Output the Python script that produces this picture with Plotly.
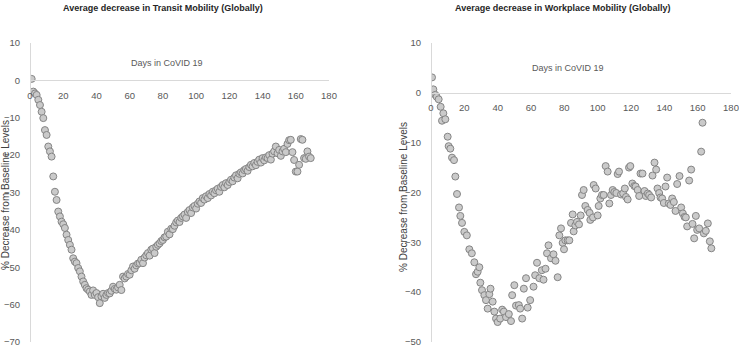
import plotly.graph_objects as go

# ---- Transit mobility (left chart) ----
transit_values = [
    0.4, -3.0, -3.5, -3.9, -5.2, -6.6, -8.4, -10.1, -13.3, -14.6,
    -17.7, -19.0, -20.4, -25.7, -29.8, -32.0, -35.1, -36.4, -37.8, -38.5,
    -39.5, -41.3, -42.7, -44.0, -45.3, -47.6, -48.5, -48.9, -50.2, -51.1,
    -52.5, -53.8, -54.7, -55.6, -56.0, -56.5, -57.4, -56.2, -57.4, -56.9,
    -58.0, -59.6, -57.8, -57.1, -58.2, -57.4, -56.9, -57.0, -56.3, -55.2,
    -55.8, -56.0, -55.4, -54.7, -56.1, -52.5, -53.0, -52.5, -51.8, -52.0,
    -50.8, -49.8, -50.4, -49.5, -49.0, -48.9, -48.0, -48.9, -47.4, -46.8,
    -46.2, -46.9, -45.3, -45.0, -46.2, -44.5, -44.0, -43.6, -43.0, -42.7,
    -42.0, -41.8, -40.5, -41.2, -39.7, -39.8, -38.9, -38.0, -37.5, -37.9,
    -36.8, -36.4, -35.9, -36.8, -35.2, -34.7, -35.5, -34.0, -33.6, -34.3,
    -33.0, -32.4, -32.8, -31.5, -31.9, -31.0, -31.5, -30.4, -30.8, -29.8,
    -30.2, -29.4, -29.0, -29.8, -28.5, -28.0, -28.6, -27.5, -28.0, -27.2,
    -26.6, -27.0, -26.0, -25.4, -26.2, -25.0, -24.6, -24.9, -24.0, -23.7,
    -24.2, -23.2, -22.6, -23.0, -22.1, -22.7, -21.8, -21.2, -22.0, -20.8,
    -21.4, -20.6, -20.8, -20.0, -21.2, -19.6, -19.0, -17.7, -19.5, -18.6,
    -20.2, -19.0, -18.3, -19.2, -17.0, -16.0, -15.9, -19.2, -21.3, -24.4,
    -24.4, -22.6, -15.7, -15.9, -20.8, -21.0, -19.0, -20.4, -20.8,
]
transit_days = list(range(1, len(transit_values) + 1))

# ---- Workplace mobility (right chart) ----
workplace_days = [
    0.6, 1.4, 2.6, 3.4, 4.6, 5.8, 6.6, 7.4, 8.6, 10.0,
    10.6, 11.6, 12.6, 13.8, 14.6, 15.6, 16.8, 17.6, 18.6, 20.0,
    21.5, 23.0, 24.5, 26.0, 27.0, 28.0, 29.0, 29.6, 30.6, 32.0,
    33.0, 34.0, 35.0, 35.7, 37.0, 38.0, 39.0, 40.0, 41.5, 42.7,
    43.7, 45.0, 46.7, 48.0, 48.7, 50.0, 51.0, 52.7, 53.5, 54.7,
    55.7, 57.0, 58.0, 59.5, 61.5, 62.5, 63.6, 65.0, 66.5, 67.5,
    68.7, 69.6, 70.5, 72.0, 73.5, 74.7, 76.0, 77.0, 78.0, 79.0,
    79.8, 80.6, 82.0, 83.0, 84.0, 85.0, 85.6, 86.6, 87.6, 88.8,
    89.8, 90.6, 91.6, 92.6, 94.0, 95.2, 95.6, 97.2, 97.6, 98.8,
    100.0, 100.6, 101.6, 102.6, 103.6, 104.8, 106.0, 107.0, 108.0, 109.0,
    110.0, 111.2, 112.0, 112.8, 114.0, 115.3, 116.3, 117.0, 118.0, 118.8,
    119.6, 120.8, 122.0, 122.8, 124.0, 124.9, 125.7, 126.9, 128.1, 128.9,
    130.1, 130.9, 132.1, 132.9, 134.1, 135.1, 135.9, 136.9, 137.7, 138.7,
    139.7, 140.7, 141.7, 142.7, 143.7, 144.7, 145.7, 146.7, 147.7, 149.1,
    150.1, 151.1, 152.1, 152.9, 153.7, 154.9, 156.1, 156.9, 157.9, 158.9,
    159.7, 160.9, 162.1, 162.9, 163.7, 164.9, 166.1, 167.3, 168.2,
]
workplace_values = [
    3.1, 0.7, -0.4, -0.8, -1.3, -2.8, -5.6, -4.1, -5.3, -8.8,
    -10.7, -11.2, -13.0, -13.5, -16.8, -20.3, -23.0, -24.7, -26.1, -27.9,
    -28.6, -31.4, -32.2, -34.0, -36.4, -35.9, -35.0, -38.1, -39.6, -40.6,
    -41.6, -43.3, -40.4, -39.3, -41.9, -43.9, -45.3, -46.0, -45.3, -43.5,
    -43.9, -45.0, -44.4, -45.8, -40.6, -38.6, -42.7, -42.6, -43.3, -45.3,
    -39.3, -37.2, -43.1, -41.6, -38.9, -36.6, -34.1, -37.2, -35.6, -37.5,
    -35.3, -32.2, -30.6, -33.2, -32.4, -33.7, -37.0, -28.6, -27.2, -30.1,
    -31.4, -29.6, -29.6, -29.6, -26.1, -24.4, -27.8, -26.6, -25.9, -26.4,
    -24.6, -20.5, -19.5, -22.7, -23.5, -24.1, -25.5, -25.0, -18.5, -19.2,
    -24.6, -22.7, -21.2, -20.5, -20.5, -14.7, -15.8, -22.2, -20.5, -19.5,
    -19.9, -20.1, -16.3, -15.8, -20.4, -20.2, -19.2, -20.9, -21.4, -15.0,
    -14.7, -18.2, -18.7, -18.8, -19.5, -20.7, -16.2, -16.2, -19.7, -20.7,
    -20.2, -20.5, -21.0, -16.6, -14.0, -15.4, -19.2, -20.1, -21.0, -21.2,
    -22.1, -18.8, -17.0, -22.2, -22.5, -21.2, -21.9, -23.7, -18.3, -16.7,
    -23.0, -24.2, -24.9, -25.0, -26.8, -17.6, -15.4, -26.3, -29.2, -24.7,
    -27.5, -27.2, -11.8, -6.0, -28.2, -27.7, -26.2, -29.8, -31.2,
]

x_ticks = [0, 20, 40, 60, 80, 100, 120, 140, 160, 180]
titles = ["Average decrease in Transit Mobility (Globally)",
          "Average decrease in Workplace Mobility (Globally)"]
x_title = "Days in CoVID 19"
y_title = "% Decrease from Baseline Levels"

W, H = 739, 347
def px_x(p): return p / W
def px_y(p): return (H - p) / H

marker = dict(size=7, color="#cacaca", line=dict(color="#858585", width=1))
tickfont = dict(family="Liberation Sans Narrow, Arial Narrow, Liberation Sans, sans-serif",
                size=9.5, color="#595959")

fig = go.Figure()
fig.add_trace(go.Scatter(x=transit_days, y=transit_values, mode="markers",
                         marker=marker, xaxis="x", yaxis="y", showlegend=False))
fig.add_trace(go.Scatter(x=workplace_days, y=workplace_values, mode="markers",
                         marker=marker, xaxis="x2", yaxis="y2", showlegend=False))

ydom = [px_y(342), px_y(43)]
axis_common = dict(showgrid=False, zeroline=False, showline=True, linecolor="#d9d9d9",
                   linewidth=1, ticks="", tickfont=tickfont, automargin=False,
                   ticklabeloverflow="allow")

fig.update_layout(
    width=W, height=H,
    margin=dict(l=0, r=0, t=0, b=0),
    paper_bgcolor="white", plot_bgcolor="white",
    xaxis=dict(domain=[px_x(30), px_x(329)], range=[0, 180], tickvals=x_ticks,
               anchor="free", position=px_y(80.4), ticklabelstandoff=6, **axis_common),
    yaxis=dict(domain=ydom, range=[-70, 10], tickvals=list(range(-70, 11, 10)),
               anchor="free", position=px_x(30), ticklabelstandoff=8, **axis_common),
    xaxis2=dict(domain=[px_x(431), px_x(731)], range=[0, 180], tickvals=x_ticks,
                anchor="free", position=px_y(92.8), ticklabelstandoff=6, **axis_common),
    yaxis2=dict(domain=ydom, range=[-50, 10], tickvals=list(range(-50, 11, 10)),
                anchor="free", position=px_x(431), ticklabelstandoff=8, **axis_common),
)

title_font = dict(family="Liberation Sans Narrow, Arial Narrow, Liberation Sans, sans-serif",
                  size=9, color="#262626")
ytitle_font = dict(family="Liberation Sans, Arial, sans-serif", size=10, color="#404040")
ann = [
    dict(text="<b>" + titles[0] + "</b>", x=px_x(163), y=px_y(8), font=title_font),
    dict(text="<b>" + titles[1] + "</b>", x=px_x(563), y=px_y(8), font=title_font),
    dict(text=x_title, x=px_x(167), y=px_y(63), font=dict(tickfont, size=9)),
    dict(text=x_title, x=px_x(568), y=px_y(68), font=dict(tickfont, size=9)),
    dict(text=y_title, x=px_x(5), y=px_y(195), textangle=-90, font=ytitle_font),
    dict(text=y_title, x=px_x(403), y=px_y(197), textangle=-90, font=ytitle_font),
]
for a in ann:
    fig.add_annotation(xref="paper", yref="paper", showarrow=False,
                       xanchor="center", yanchor="middle", **a)

fig.write_html("out.html", config={"displayModeBar": False},
               post_script="document.body.style.margin='0';document.body.style.padding='0';")
